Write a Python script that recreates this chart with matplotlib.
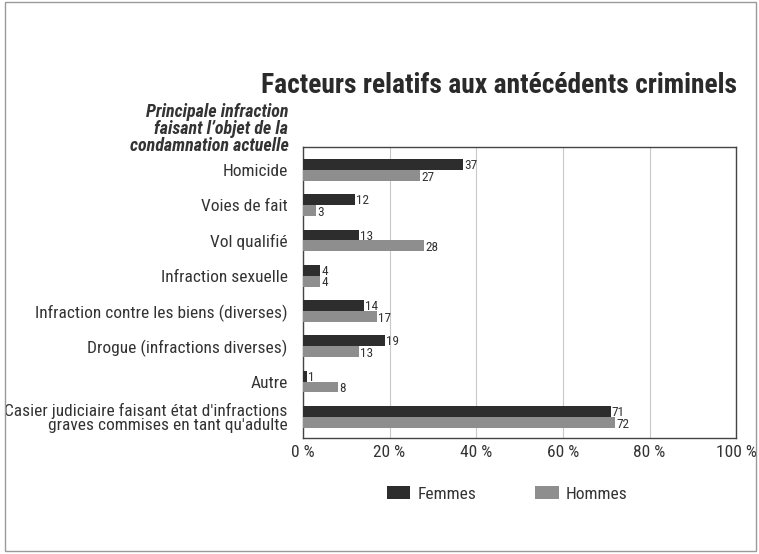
import numpy as np
import matplotlib
matplotlib.use("Agg")
import matplotlib.pyplot as plt
from matplotlib.patches import Rectangle

categories = [
    "Homicide",
    "Voies de fait",
    "Vol qualifié",
    "Infraction sexuelle",
    "Infraction contre les biens (diverses)",
    "Drogue (infractions diverses)",
    "Autre",
    "Casier judiciaire faisant état d'infractions\ngraves commises en tant qu'adulte",
]
femmes = [37, 12, 13, 4, 14, 19, 1, 71]
hommes = [27, 3, 28, 4, 17, 13, 8, 72]
xticks = [0, 20, 40, 60, 80, 100]
xtick_labels = ["0 %", "20 %", "40 %", "60 %", "80 %", "100 %"]

title = "Facteurs relatifs aux antécédents criminels"
subtitle = "Principale infraction\nfaisant l’objet de la\ncondamnation actuelle"

plt.rcParams["font.family"] = ["Roboto Condensed", "Liberation Sans", "DejaVu Sans"]

TEXT = "#333333"
DARK = "#2d2d2d"
GREY = "#8e8e8e"

fig = plt.figure(figsize=(7.59, 5.54), dpi=100)
ax = fig.add_axes([0.399, 0.2094, 0.571, 0.5253])

y = np.arange(len(categories))
h = 0.31
ax.barh(y - h / 2, femmes, height=h, color=DARK, label="Femmes", zorder=3)
ax.barh(y + h / 2, hommes, height=h, color=GREY, label="Hommes", zorder=3)

for yi, v in zip(y, femmes):
    ax.text(v + 0.3, yi - h / 2 + 0.03, str(v), va="center", ha="left",
            fontsize=9.5, color=TEXT)
for yi, v in zip(y, hommes):
    ax.text(v + 0.3, yi + h / 2 + 0.05, str(v), va="center", ha="left",
            fontsize=9.5, color=TEXT)

ax.set_xlim(0, 100)
ax.set_ylim(len(categories) - 0.4, -0.65)
ax.set_xticks(xticks)
ax.set_xticklabels(xtick_labels, fontsize=12.5, color=TEXT)
ax.set_yticks(y)
ax.set_yticklabels(categories, fontsize=12.5, color=TEXT, linespacing=0.95)
ax.tick_params(axis="both", length=0)
ax.tick_params(axis="y", pad=11)
ax.tick_params(axis="x", pad=5)

ax.grid(axis="x", color="#c8c8c8", linewidth=0.8, zorder=0)
for s in ax.spines.values():
    s.set_color("#444444")
    s.set_linewidth(1.0)

fig.text(0.971, 0.845, title, ha="right", va="center", fontsize=19.8,
         fontweight="bold", color="#2a2a2a")
fig.text(0.38, 0.72, subtitle, ha="right", va="bottom", fontsize=13,
         fontweight="bold", fontstyle="italic", color=TEXT, linespacing=0.95)

fig.legend(loc="center", bbox_to_anchor=(0.668, 0.108), ncol=2, frameon=False,
           fontsize=12.5, handlelength=1.35, handleheight=0.75, handletextpad=0.4,
           columnspacing=3.4, labelcolor=TEXT)

fig.patches.append(Rectangle((0.006, 0.006), 0.99, 0.99, transform=fig.transFigure,
                             fill=False, edgecolor="#9a9a9a", linewidth=1.0))

fig.savefig("out.png", dpi=100)
